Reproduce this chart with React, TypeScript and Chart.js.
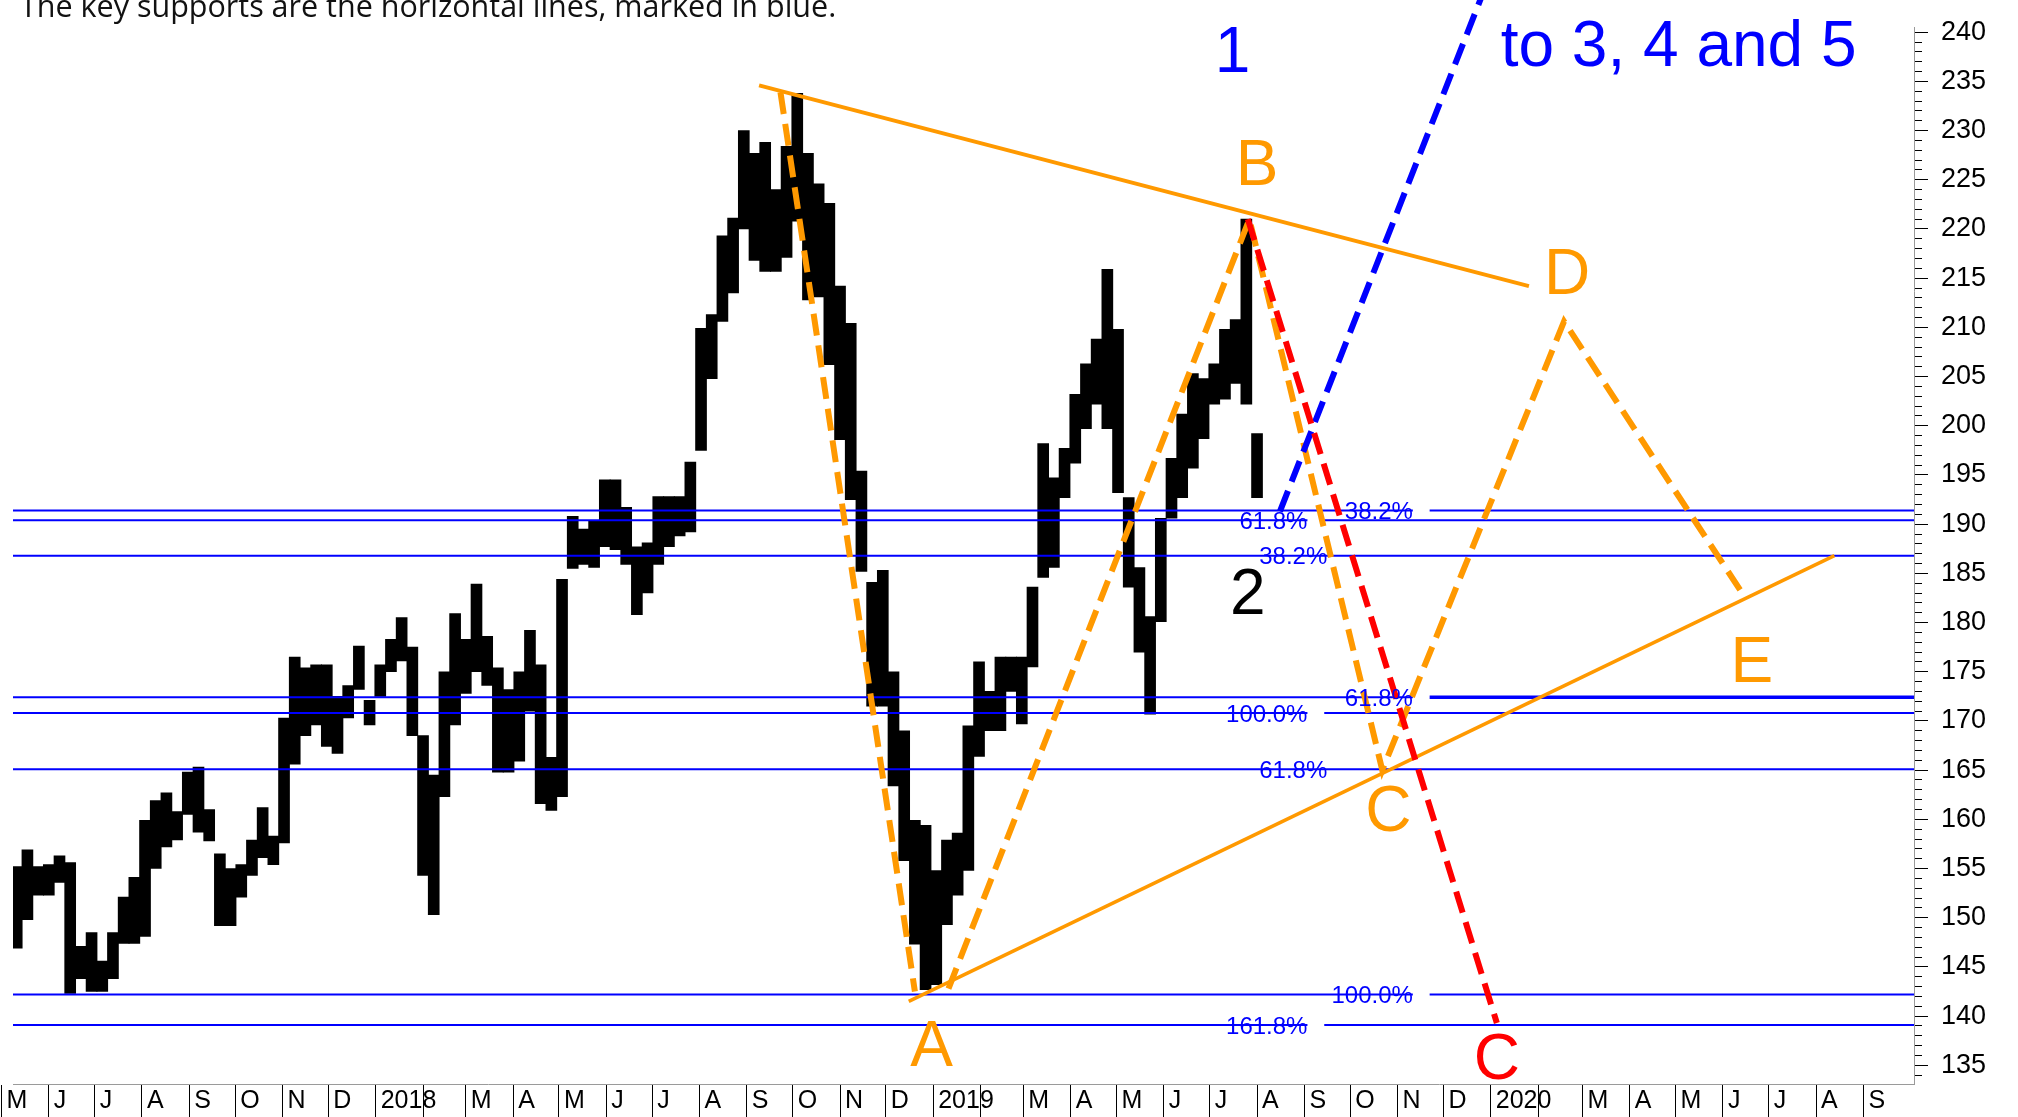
import React, { useEffect, useRef } from 'react';
import { Chart, registerables } from 'chart.js';

Chart.register(...registerables);

const FONT = '"Liberation Sans", Arial, sans-serif';
const DAY_MS = 86400000;
const toDay = (s: string): number => {
  const [yy, mm, dd] = s.split('-').map(Number);
  return Date.UTC(yy, mm - 1, dd) / DAY_MS;
};

const HEADLINE = 'The key supports are the horizontal lines, marked in blue.';

// Weekly price ranges (week starting Monday)
const WEEK_START: string[] = [
  '2017-05-08', '2017-05-15', '2017-05-22', '2017-05-29', '2017-06-05', '2017-06-12', '2017-06-19', '2017-06-26',
  '2017-07-03', '2017-07-10', '2017-07-17', '2017-07-24', '2017-07-31', '2017-08-07', '2017-08-14', '2017-08-21',
  '2017-08-28', '2017-09-04', '2017-09-11', '2017-09-18', '2017-09-25', '2017-10-02', '2017-10-09', '2017-10-16',
  '2017-10-23', '2017-10-30', '2017-11-06', '2017-11-13', '2017-11-20', '2017-11-27', '2017-12-04', '2017-12-11',
  '2017-12-18', '2017-12-25',
  '2018-01-01', '2018-01-08', '2018-01-15', '2018-01-22', '2018-01-29', '2018-02-05', '2018-02-12', '2018-02-19',
  '2018-02-26', '2018-03-05', '2018-03-12', '2018-03-19', '2018-03-26', '2018-04-02', '2018-04-09', '2018-04-16',
  '2018-04-23', '2018-04-30', '2018-05-07', '2018-05-14', '2018-05-21', '2018-05-28', '2018-06-04', '2018-06-11',
  '2018-06-18', '2018-06-25', '2018-07-02', '2018-07-09', '2018-07-16', '2018-07-23', '2018-07-30', '2018-08-06',
  '2018-08-13', '2018-08-20', '2018-08-27', '2018-09-03', '2018-09-10', '2018-09-17', '2018-09-24', '2018-10-01',
  '2018-10-08', '2018-10-15', '2018-10-22', '2018-10-29', '2018-11-05', '2018-11-12', '2018-11-19', '2018-11-26',
  '2018-12-03', '2018-12-10', '2018-12-17', '2018-12-24', '2018-12-31',
  '2019-01-07', '2019-01-14', '2019-01-21', '2019-01-28', '2019-02-04', '2019-02-11', '2019-02-18', '2019-02-25',
  '2019-03-04', '2019-03-11', '2019-03-18', '2019-03-25', '2019-04-01', '2019-04-08', '2019-04-15', '2019-04-22',
  '2019-04-29', '2019-05-06', '2019-05-13', '2019-05-20', '2019-05-27', '2019-06-03', '2019-06-10', '2019-06-17',
  '2019-06-24', '2019-07-01', '2019-07-08', '2019-07-15', '2019-07-22', '2019-07-29',
];

const WEEK_HIGH: number[] = [
  155.2, 156.9, 155.2, 155.4, 156.3, 155.6, 147.1, 148.5,
  145.6, 148.5, 152.1, 154.1, 159.9, 161.9, 162.7, 160.8,
  164.8, 165.3, 161.0, 156.5, 155.0, 155.4, 157.9, 161.2,
  158.3, 170.3, 176.5, 175.4, 175.7, 175.7, 172.5, 173.6,
  177.6, 172.1,
  175.7, 178.3, 180.5, 177.5, 168.5, 164.5, 175.0, 180.9,
  178.3, 183.9, 178.6, 175.4, 173.2, 175.0, 179.2, 175.7,
  166.3, 184.4, 190.8, 189.5, 190.3, 194.5, 194.5, 191.7,
  187.7, 188.1, 192.8, 192.8, 192.8, 196.3, 209.9, 211.3,
  219.3, 221.1, 230.0, 227.7, 228.8, 224.0, 228.4, 233.8,
  227.7, 224.6, 222.6, 214.2, 210.4, 195.4, 184.1, 185.3,
  175.0, 169.0, 159.9, 159.4, 154.8,
  157.9, 158.6, 169.5, 176.0, 173.0, 176.5, 176.5, 176.5,
  183.6, 198.2, 194.7, 197.7, 203.2, 206.3, 208.8, 215.9,
  209.8, 192.7, 185.6, 180.6, 190.6, 196.7, 201.2, 205.3,
  204.8, 206.3, 209.8, 210.8, 221.0, 199.2,
];

const WEEK_LOW: number[] = [
  146.9, 149.8, 152.3, 152.3, 153.6, 142.3, 143.8, 142.5,
  142.5, 143.8, 147.4, 147.4, 148.1, 155.0, 157.2, 157.9,
  160.5, 158.7, 157.8, 149.2, 149.2, 152.1, 154.3, 156.1,
  155.4, 157.6, 165.6, 168.5, 169.6, 167.4, 166.7, 170.3,
  173.2, 169.6,
  172.5, 175.0, 176.1, 168.5, 154.3, 150.3, 162.3, 169.6,
  172.8, 175.0, 173.6, 164.8, 164.8, 165.9, 171.0, 161.6,
  160.9, 162.3, 185.5, 185.9, 185.6, 187.7, 187.4, 185.9,
  180.8, 183.0, 185.9, 187.7, 188.8, 189.2, 197.5, 204.8,
  210.6, 213.5, 220.0, 216.8, 215.7, 215.7, 217.1, 220.8,
  212.8, 213.1, 206.2, 198.6, 192.5, 185.2, 171.5, 171.5,
  163.4, 155.8, 147.3, 142.7, 143.2,
  149.3, 152.3, 154.8, 166.4, 169.0, 169.0, 173.0, 169.7,
  175.5, 184.6, 185.6, 192.7, 196.2, 199.7, 202.2, 199.7,
  193.2, 183.6, 177.0, 170.7, 180.1, 190.6, 192.7, 195.7,
  198.7, 202.2, 202.7, 204.3, 202.2, 192.7,
];

// Fibonacci support levels (blue)
const FIB_LEVELS: number[] = [191.4, 190.4, 186.8, 172.4, 170.8, 165.1, 142.2, 139.1];
const FIB_TEXT: string[] = ['38.2%', '61.8%', '38.2%', '61.8%', '100.0%', '61.8%', '100.0%', '161.8%'];
const FIB_LABEL_END: string[] = ['2019-11-11', '2019-09-03', '2019-09-16', '2019-11-11', '2019-09-03', '2019-09-16', '2019-11-11', '2019-09-03'];
const FIB_RESUME: string[] = ['2019-11-22', '2019-09-14', '', '2019-11-22', '2019-09-14', '', '2019-11-22', '2019-09-14'];
const DOUBLE_LEVEL = 172.4;

// Trend lines and wave paths: [date, price]
const TOP_TREND: [string, number][] = [['2018-09-09', 234.6], ['2020-01-26', 214.2]];
const BOTTOM_TREND: [string, number][] = [['2018-12-16', 141.5], ['2020-08-13', 186.8]];
const WAVE_DOWN: [string, number][] = [['2018-09-23', 233.9], ['2018-12-20', 142.5]];
const WAVE_ABCDE: [string, number][] = [
  ['2019-01-11', 142.8], ['2019-07-27', 221.0], ['2019-10-22', 165.0], ['2020-02-18', 210.6], ['2020-06-14', 182.9],
];
const RED_PATH: [string, number][] = [['2019-07-26', 221.0], ['2020-01-05', 139.3]];
const BLUE_PATH: [string, number][] = [['2019-08-16', 191.3], ['2020-01-01', 246.0]];

// Annotation letters
const NOTE_TEXT: string[] = ['1', 'to 3, 4 and 5', 'B', 'D', '2', 'E', 'C', 'A', 'C'];
const NOTE_DATE: string[] = ['2019-07-16', '2020-05-03', '2019-08-01', '2020-02-20', '2019-07-26', '2020-06-20', '2019-10-26', '2018-12-31', '2020-01-05'];
const NOTE_PRICE: number[] = [237.8, 238.4, 226.3, 215.2, 182.7, 175.8, 160.6, 136.7, 135.4];
const NOTE_KIND: string[] = ['blue', 'blue', 'orange', 'orange', 'black', 'orange', 'orange', 'orange', 'red'];

const MONTH_INITIALS: string[] = ['J', 'F', 'M', 'A', 'M', 'J', 'J', 'A', 'S', 'O', 'N', 'D'];
const FIRST_MONTH = '2017-05-01';
const LAST_MONTH = '2020-09-01';

const X_MIN = toDay('2017-06-01') - 23.44;
const X_MAX = toDay('2017-06-01') + 1221.1;
const Y_MIN = 133.1;
const Y_MAX = 240.5;

const ORANGE = '#FF9900';
const RED = '#FF0000';
const BLUE = '#0000FF';
const COLORS: Record<string, string> = { orange: ORANGE, red: RED, blue: BLUE, black: '#000000' };

const pts = (p: [string, number][]) => p.map(([d, v]) => ({ x: toDay(d), y: v }));

const lineDs = (data: { x: number; y: number }[], color: string, width: number, dash: number[], order: number) => ({
  type: 'line' as const,
  data,
  borderColor: color,
  borderWidth: width,
  borderDash: dash,
  borderCapStyle: 'butt',
  pointRadius: 0,
  pointHoverRadius: 0,
  fill: false,
  tension: 0,
  clip: false,
  order,
});

const overlayPlugin = {
  id: 'overlay',
  afterDatasetsDraw(chart: any) {
    const { ctx } = chart;
    const xs = chart.scales.x;
    const ys = chart.scales.y;
    ctx.save();
    ctx.font = `24px ${FONT}`;
    ctx.fillStyle = BLUE;
    ctx.textAlign = 'right';
    ctx.textBaseline = 'middle';
    FIB_LEVELS.forEach((lv, i) => {
      ctx.fillText(FIB_TEXT[i], xs.getPixelForValue(toDay(FIB_LABEL_END[i])), ys.getPixelForValue(lv) + 2);
    });
    ctx.font = `64px ${FONT}`;
    ctx.textAlign = 'center';
    NOTE_TEXT.forEach((t, i) => {
      ctx.fillStyle = COLORS[NOTE_KIND[i]];
      ctx.fillText(t, xs.getPixelForValue(toDay(NOTE_DATE[i])), ys.getPixelForValue(NOTE_PRICE[i]));
    });
    ctx.restore();
  },
  afterDraw(chart: any) {
    const { ctx } = chart;
    ctx.save();
    ctx.font = '30.5px "Open Sans"';
    ctx.fillStyle = '#111111';
    ctx.textAlign = 'left';
    ctx.textBaseline = 'alphabetic';
    ctx.fillText(HEADLINE, 20, 17);
    ctx.restore();
  },
};

export default function App() {
  const ref = useRef<HTMLCanvasElement>(null);

  useEffect(() => {
    if (!ref.current) return;

    const bars = {
      type: 'bar' as const,
      data: WEEK_START.map((w, i) => ({ x: toDay(w) + 3, y: [WEEK_LOW[i], WEEK_HIGH[i]] })),
      backgroundColor: '#000000',
      borderWidth: 0,
      barThickness: 11,
      grouped: false,
      order: 10,
    };

    const fibSets: any[] = [];
    FIB_LEVELS.forEach((lv, i) => {
      if (FIB_RESUME[i]) {
        fibSets.push(lineDs([{ x: X_MIN, y: lv }, { x: toDay(FIB_LABEL_END[i]), y: lv }], BLUE, 2, [], 8));
        fibSets.push(
          lineDs([{ x: toDay(FIB_RESUME[i]), y: lv }, { x: X_MAX, y: lv }], BLUE, lv === DOUBLE_LEVEL ? 3.5 : 2, [], 8),
        );
      } else {
        fibSets.push(lineDs([{ x: X_MIN, y: lv }, { x: X_MAX, y: lv }], BLUE, 2, [], 8));
      }
    });

    const datasets: any[] = [
      bars,
      ...fibSets,
      lineDs(pts(TOP_TREND), ORANGE, 4, [], 5),
      lineDs(pts(BOTTOM_TREND), ORANGE, 3.5, [], 5),
      lineDs(pts(WAVE_DOWN), ORANGE, 6, [22, 10], 4),
      lineDs(pts(WAVE_ABCDE), ORANGE, 6, [22, 10], 4),
      lineDs(pts(RED_PATH), RED, 6, [22, 10], 3),
      lineDs(pts(BLUE_PATH), BLUE, 6, [22, 10], 3),
    ];

    const chart = new Chart(ref.current, {
      type: 'bar',
      data: { datasets },
      options: {
        responsive: false,
        devicePixelRatio: 1,
        animation: false,
        events: [],
        layout: { padding: { left: 13, top: 27.3, right: 0, bottom: 0 } },
        plugins: { legend: { display: false }, tooltip: { enabled: false }, title: { display: false } },
        scales: {
          x: {
            type: 'linear',
            position: 'bottom',
            min: X_MIN,
            max: X_MAX,
            offset: false,
            afterBuildTicks: (scale: any) => {
              const ticks: { value: number }[] = [];
              const start = new Date(toDay(FIRST_MONTH) * DAY_MS);
              const end = toDay(LAST_MONTH);
              let y = start.getUTCFullYear();
              let m = start.getUTCMonth();
              while (Date.UTC(y, m, 1) / DAY_MS <= end) {
                ticks.push({ value: Date.UTC(y, m, 1) / DAY_MS });
                m += 1;
                if (m > 11) { m = 0; y += 1; }
              }
              scale.ticks = ticks;
            },
            afterFit: (scale: any) => { scale.height = 33; },
            grid: { offset: false, drawOnChartArea: false, drawTicks: true, tickLength: 33, tickColor: '#000000', tickWidth: 1 },
            border: { display: true, color: '#9a9a9a', width: 1 },
            ticks: {
              autoSkip: false,
              maxRotation: 0,
              minRotation: 0,
              align: 'start',
              labelOffset: 5,
              padding: -31,
              color: '#000000',
              font: { size: 25, family: FONT },
              callback: (value: any) => {
                const d = new Date(Number(value) * DAY_MS);
                const mo = d.getUTCMonth();
                if (mo === 0) return String(d.getUTCFullYear());
                if (mo === 1) return '';
                return MONTH_INITIALS[mo];
              },
            },
          },
          y: {
            type: 'linear',
            position: 'right',
            min: Y_MIN,
            max: Y_MAX,
            beginAtZero: false,
            afterBuildTicks: (scale: any) => {
              const ticks: { value: number }[] = [];
              for (let v = Math.ceil(Y_MIN); v <= Math.floor(Y_MAX); v++) ticks.push({ value: v });
              scale.ticks = ticks;
            },
            afterFit: (scale: any) => { scale.width = 104; },
            grid: {
              drawOnChartArea: false,
              drawTicks: true,
              tickLength: 17,
              tickColor: '#000000',
              tickWidth: 1,
              tickBorderDash: (ctx: any) => (ctx.tick && ctx.tick.value % 5 === 0 ? [13, 40] : [7, 40]),
            },
            border: { display: true, color: '#9a9a9a', width: 1 },
            ticks: {
              autoSkip: false,
              padding: 10,
              color: '#000000',
              font: { size: 27, family: FONT },
              callback: (value: any) => (Number(value) % 5 === 0 ? String(value) : ''),
            },
          },
        },
      },
      plugins: [overlayPlugin],
    } as any);

    return () => chart.destroy();
  }, []);

  return (
    <div style={{ position: 'absolute', left: 0, top: 0, width: 2018, height: 1117, background: '#ffffff' }}>
      <canvas ref={ref} width={2018} height={1117} style={{ display: 'block', width: 2018, height: 1117 }} />
    </div>
  );
}
